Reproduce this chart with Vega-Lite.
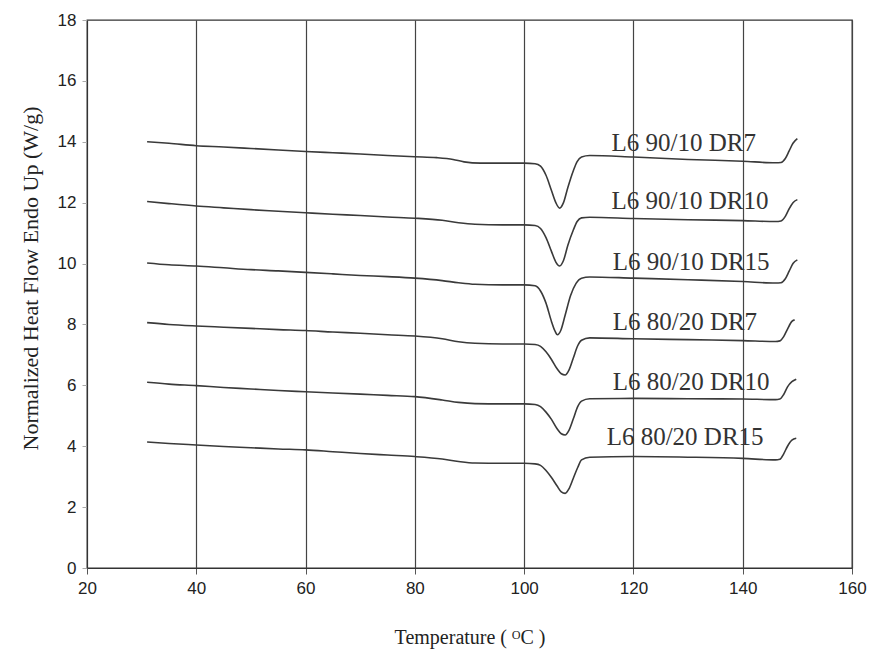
{
  "$schema": "https://vega.github.io/schema/vega-lite/v6.json",
  "width": 765,
  "height": 548,
  "autosize": "none",
  "padding": {"left": 87, "top": 20, "right": 25, "bottom": 93},
  "background": "white",
  "config": {
    "view": {"stroke": "#333", "strokeWidth": 1.3},
    "axis": {"labelFont": "Liberation Sans", "labelFontSize": 17, "labelColor": "#222", "titleFont": "Liberation Serif", "titleFontWeight": "normal", "titleColor": "#222", "domainColor": "#333", "tickColor": "#555", "labelFlush": false}
  },
  "datasets": {
    "curves": [
      {"s": "a", "t": 31, "v": 14.0}, {"s": "a", "t": 35, "v": 13.95}, {"s": "a", "t": 40, "v": 13.87}, {"s": "a", "t": 45, "v": 13.83}, {"s": "a", "t": 50, "v": 13.78}, {"s": "a", "t": 55, "v": 13.73}, {"s": "a", "t": 60, "v": 13.68}, {"s": "a", "t": 65, "v": 13.64}, {"s": "a", "t": 70, "v": 13.6}, {"s": "a", "t": 75, "v": 13.55}, {"s": "a", "t": 80, "v": 13.51}, {"s": "a", "t": 84, "v": 13.48}, {"s": "a", "t": 87, "v": 13.42}, {"s": "a", "t": 89, "v": 13.34}, {"s": "a", "t": 92, "v": 13.3}, {"s": "a", "t": 96, "v": 13.3}, {"s": "a", "t": 100, "v": 13.3}, {"s": "a", "t": 102, "v": 13.28}, {"s": "a", "t": 103, "v": 13.2}, {"s": "a", "t": 104, "v": 12.9}, {"s": "a", "t": 105, "v": 12.4}, {"s": "a", "t": 105.8, "v": 12.0}, {"s": "a", "t": 106.5, "v": 11.82}, {"s": "a", "t": 107.2, "v": 12.0}, {"s": "a", "t": 108, "v": 12.5}, {"s": "a", "t": 109, "v": 13.05}, {"s": "a", "t": 109.7, "v": 13.35}, {"s": "a", "t": 110.5, "v": 13.5}, {"s": "a", "t": 112, "v": 13.55}, {"s": "a", "t": 120, "v": 13.5}, {"s": "a", "t": 130, "v": 13.42}, {"s": "a", "t": 140, "v": 13.36}, {"s": "a", "t": 146, "v": 13.31}, {"s": "a", "t": 147, "v": 13.32}, {"s": "a", "t": 147.8, "v": 13.45}, {"s": "a", "t": 148.5, "v": 13.7}, {"s": "a", "t": 149.2, "v": 13.95}, {"s": "a", "t": 150, "v": 14.1},

      {"s": "b", "t": 31, "v": 12.04}, {"s": "b", "t": 35, "v": 11.97}, {"s": "b", "t": 40, "v": 11.89}, {"s": "b", "t": 45, "v": 11.83}, {"s": "b", "t": 50, "v": 11.77}, {"s": "b", "t": 55, "v": 11.72}, {"s": "b", "t": 60, "v": 11.67}, {"s": "b", "t": 65, "v": 11.62}, {"s": "b", "t": 70, "v": 11.58}, {"s": "b", "t": 75, "v": 11.53}, {"s": "b", "t": 80, "v": 11.49}, {"s": "b", "t": 85, "v": 11.42}, {"s": "b", "t": 88, "v": 11.34}, {"s": "b", "t": 91, "v": 11.29}, {"s": "b", "t": 96, "v": 11.27}, {"s": "b", "t": 100, "v": 11.27}, {"s": "b", "t": 102, "v": 11.25}, {"s": "b", "t": 103, "v": 11.15}, {"s": "b", "t": 104, "v": 10.85}, {"s": "b", "t": 105, "v": 10.4}, {"s": "b", "t": 105.8, "v": 10.05}, {"s": "b", "t": 106.5, "v": 9.92}, {"s": "b", "t": 107.2, "v": 10.1}, {"s": "b", "t": 108, "v": 10.6}, {"s": "b", "t": 109, "v": 11.1}, {"s": "b", "t": 109.7, "v": 11.38}, {"s": "b", "t": 110.5, "v": 11.5}, {"s": "b", "t": 112, "v": 11.52}, {"s": "b", "t": 120, "v": 11.48}, {"s": "b", "t": 130, "v": 11.44}, {"s": "b", "t": 140, "v": 11.41}, {"s": "b", "t": 146, "v": 11.38}, {"s": "b", "t": 147, "v": 11.4}, {"s": "b", "t": 147.8, "v": 11.55}, {"s": "b", "t": 148.5, "v": 11.8}, {"s": "b", "t": 149.2, "v": 12.0}, {"s": "b", "t": 150, "v": 12.1},

      {"s": "c", "t": 31, "v": 10.02}, {"s": "c", "t": 35, "v": 9.96}, {"s": "c", "t": 40, "v": 9.92}, {"s": "c", "t": 45, "v": 9.86}, {"s": "c", "t": 50, "v": 9.8}, {"s": "c", "t": 55, "v": 9.76}, {"s": "c", "t": 60, "v": 9.71}, {"s": "c", "t": 65, "v": 9.66}, {"s": "c", "t": 70, "v": 9.61}, {"s": "c", "t": 75, "v": 9.57}, {"s": "c", "t": 80, "v": 9.52}, {"s": "c", "t": 85, "v": 9.44}, {"s": "c", "t": 88, "v": 9.37}, {"s": "c", "t": 91, "v": 9.32}, {"s": "c", "t": 96, "v": 9.3}, {"s": "c", "t": 100, "v": 9.3}, {"s": "c", "t": 102, "v": 9.27}, {"s": "c", "t": 103, "v": 9.1}, {"s": "c", "t": 104, "v": 8.7}, {"s": "c", "t": 105, "v": 8.1}, {"s": "c", "t": 105.6, "v": 7.8}, {"s": "c", "t": 106.1, "v": 7.66}, {"s": "c", "t": 106.7, "v": 7.8}, {"s": "c", "t": 107.5, "v": 8.3}, {"s": "c", "t": 108.5, "v": 8.95}, {"s": "c", "t": 109.5, "v": 9.35}, {"s": "c", "t": 110.5, "v": 9.52}, {"s": "c", "t": 112, "v": 9.56}, {"s": "c", "t": 120, "v": 9.52}, {"s": "c", "t": 130, "v": 9.47}, {"s": "c", "t": 140, "v": 9.41}, {"s": "c", "t": 146, "v": 9.36}, {"s": "c", "t": 147, "v": 9.37}, {"s": "c", "t": 147.8, "v": 9.5}, {"s": "c", "t": 148.5, "v": 9.75}, {"s": "c", "t": 149.2, "v": 10.0}, {"s": "c", "t": 150, "v": 10.12},

      {"s": "d", "t": 31, "v": 8.06}, {"s": "d", "t": 35, "v": 8.0}, {"s": "d", "t": 40, "v": 7.95}, {"s": "d", "t": 45, "v": 7.91}, {"s": "d", "t": 50, "v": 7.87}, {"s": "d", "t": 55, "v": 7.83}, {"s": "d", "t": 60, "v": 7.8}, {"s": "d", "t": 65, "v": 7.75}, {"s": "d", "t": 70, "v": 7.71}, {"s": "d", "t": 75, "v": 7.66}, {"s": "d", "t": 80, "v": 7.62}, {"s": "d", "t": 85, "v": 7.53}, {"s": "d", "t": 88, "v": 7.43}, {"s": "d", "t": 91, "v": 7.38}, {"s": "d", "t": 96, "v": 7.36}, {"s": "d", "t": 100, "v": 7.36}, {"s": "d", "t": 102, "v": 7.34}, {"s": "d", "t": 103, "v": 7.28}, {"s": "d", "t": 104, "v": 7.1}, {"s": "d", "t": 105, "v": 6.85}, {"s": "d", "t": 106, "v": 6.55}, {"s": "d", "t": 106.8, "v": 6.38}, {"s": "d", "t": 107.5, "v": 6.34}, {"s": "d", "t": 108.2, "v": 6.5}, {"s": "d", "t": 109, "v": 6.9}, {"s": "d", "t": 109.8, "v": 7.3}, {"s": "d", "t": 110.5, "v": 7.48}, {"s": "d", "t": 112, "v": 7.56}, {"s": "d", "t": 120, "v": 7.53}, {"s": "d", "t": 130, "v": 7.5}, {"s": "d", "t": 140, "v": 7.47}, {"s": "d", "t": 146, "v": 7.44}, {"s": "d", "t": 146.8, "v": 7.46}, {"s": "d", "t": 147.5, "v": 7.6}, {"s": "d", "t": 148.2, "v": 7.85}, {"s": "d", "t": 149, "v": 8.1}, {"s": "d", "t": 149.5, "v": 8.15},

      {"s": "e", "t": 31, "v": 6.1}, {"s": "e", "t": 35, "v": 6.04}, {"s": "e", "t": 40, "v": 5.99}, {"s": "e", "t": 45, "v": 5.93}, {"s": "e", "t": 50, "v": 5.88}, {"s": "e", "t": 55, "v": 5.83}, {"s": "e", "t": 60, "v": 5.79}, {"s": "e", "t": 65, "v": 5.75}, {"s": "e", "t": 70, "v": 5.71}, {"s": "e", "t": 75, "v": 5.67}, {"s": "e", "t": 80, "v": 5.63}, {"s": "e", "t": 85, "v": 5.52}, {"s": "e", "t": 88, "v": 5.44}, {"s": "e", "t": 91, "v": 5.4}, {"s": "e", "t": 96, "v": 5.39}, {"s": "e", "t": 100, "v": 5.39}, {"s": "e", "t": 102, "v": 5.37}, {"s": "e", "t": 103, "v": 5.3}, {"s": "e", "t": 104, "v": 5.12}, {"s": "e", "t": 105, "v": 4.88}, {"s": "e", "t": 106, "v": 4.58}, {"s": "e", "t": 106.8, "v": 4.41}, {"s": "e", "t": 107.5, "v": 4.37}, {"s": "e", "t": 108.2, "v": 4.52}, {"s": "e", "t": 109, "v": 4.9}, {"s": "e", "t": 109.8, "v": 5.3}, {"s": "e", "t": 110.5, "v": 5.48}, {"s": "e", "t": 112, "v": 5.56}, {"s": "e", "t": 120, "v": 5.57}, {"s": "e", "t": 130, "v": 5.56}, {"s": "e", "t": 140, "v": 5.55}, {"s": "e", "t": 146, "v": 5.53}, {"s": "e", "t": 146.8, "v": 5.55}, {"s": "e", "t": 147.5, "v": 5.7}, {"s": "e", "t": 148.2, "v": 5.95}, {"s": "e", "t": 149, "v": 6.12}, {"s": "e", "t": 149.8, "v": 6.2},

      {"s": "f", "t": 31, "v": 4.14}, {"s": "f", "t": 35, "v": 4.09}, {"s": "f", "t": 40, "v": 4.04}, {"s": "f", "t": 45, "v": 3.99}, {"s": "f", "t": 50, "v": 3.95}, {"s": "f", "t": 55, "v": 3.91}, {"s": "f", "t": 60, "v": 3.88}, {"s": "f", "t": 65, "v": 3.82}, {"s": "f", "t": 70, "v": 3.76}, {"s": "f", "t": 75, "v": 3.71}, {"s": "f", "t": 80, "v": 3.66}, {"s": "f", "t": 85, "v": 3.58}, {"s": "f", "t": 88, "v": 3.5}, {"s": "f", "t": 91, "v": 3.45}, {"s": "f", "t": 96, "v": 3.44}, {"s": "f", "t": 100, "v": 3.44}, {"s": "f", "t": 102, "v": 3.42}, {"s": "f", "t": 103, "v": 3.37}, {"s": "f", "t": 104, "v": 3.2}, {"s": "f", "t": 105, "v": 2.97}, {"s": "f", "t": 106, "v": 2.7}, {"s": "f", "t": 106.8, "v": 2.5}, {"s": "f", "t": 107.5, "v": 2.45}, {"s": "f", "t": 108.2, "v": 2.6}, {"s": "f", "t": 109, "v": 2.95}, {"s": "f", "t": 109.8, "v": 3.3}, {"s": "f", "t": 110.5, "v": 3.55}, {"s": "f", "t": 112, "v": 3.64}, {"s": "f", "t": 120, "v": 3.66}, {"s": "f", "t": 130, "v": 3.64}, {"s": "f", "t": 140, "v": 3.6}, {"s": "f", "t": 146, "v": 3.55}, {"s": "f", "t": 146.8, "v": 3.57}, {"s": "f", "t": 147.5, "v": 3.75}, {"s": "f", "t": 148.2, "v": 4.0}, {"s": "f", "t": 149, "v": 4.2}, {"s": "f", "t": 149.8, "v": 4.26}
    ],
    "labels": [
      {"label": "L6 90/10 DR7", "t": 116, "v": 13.96},
      {"label": "L6 90/10 DR10", "t": 116, "v": 12.06},
      {"label": "L6 90/10 DR15", "t": 116.2, "v": 10.05},
      {"label": "L6 80/20 DR7", "t": 116.2, "v": 8.08},
      {"label": "L6 80/20 DR10", "t": 116.2, "v": 6.11},
      {"label": "L6 80/20 DR15", "t": 115.1, "v": 4.3}
    ]
  },
  "layer": [
    {
      "data": {"name": "curves"},
      "mark": {"type": "line", "interpolate": "monotone", "color": "#3a3a3a", "strokeWidth": 1.6},
      "encoding": {
        "x": {"field": "t", "type": "quantitative", "scale": {"domain": [20, 160], "nice": false},
          "axis": {"values": [20, 40, 60, 80, 100, 120, 140, 160], "grid": true, "gridColor": "#444", "gridWidth": 1.2, "tickSize": 6, "labelPadding": 6, "title": "Temperature ( ᴼC )", "titleFontSize": 20, "titlePadding": 31}},
        "y": {"field": "v", "type": "quantitative", "scale": {"domain": [0, 18], "nice": false},
          "axis": {"values": [0, 2, 4, 6, 8, 10, 12, 14, 16, 18], "grid": false, "tickSize": 5, "tickColor": "#aaa", "labelPadding": 6, "title": "Normalized Heat Flow Endo Up (W/g)", "titleFontSize": 22, "titlePadding": 15, "titleY": 258}},
        "detail": {"field": "s", "type": "nominal"}
      }
    },
    {
      "data": {"name": "labels"},
      "mark": {"type": "text", "align": "left", "baseline": "middle", "font": "Liberation Serif", "fontSize": 25, "color": "#333"},
      "encoding": {
        "x": {"field": "t", "type": "quantitative"},
        "y": {"field": "v", "type": "quantitative"},
        "text": {"field": "label", "type": "nominal"}
      }
    }
  ]
}
